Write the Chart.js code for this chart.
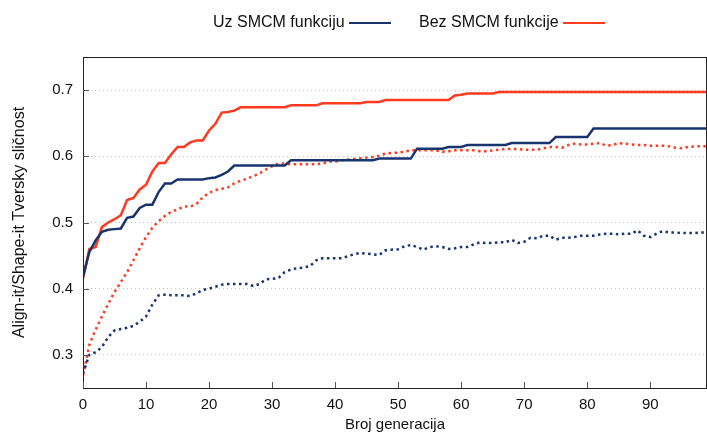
<!DOCTYPE html>
<html>
<head>
<meta charset="utf-8">
<script src="https://cdn.jsdelivr.net/npm/chart.js@4"></script>
<style>
  html, body { margin: 0; padding: 0; background: #fff; }
  #wrap { position: relative; width: 707px; height: 434px; }
  #legend { position: absolute; top: 13px; left: 0; width: 707px; height: 22px;
            font-family: "Liberation Sans", Arial, sans-serif; font-size: 16px; color: #111; }
  .item { position: absolute; top: 0; white-space: nowrap; }
  .swatch { display: inline-block; width: 42px; height: 0; border-top: 2.5px solid; vertical-align: middle; margin-left: 4px; }
</style>
</head>
<body>
<div id="wrap">
  <canvas id="chart" width="707" height="434"></canvas>
  <div id="legend">
    <span class="item" style="left:213px">Uz SMCM funkciju<span class="swatch" style="border-color:#17346f"></span></span>
    <span class="item" style="left:419px">Bez SMCM funkcije<span class="swatch" style="border-color:#ff3a1e"></span></span>
  </div>
</div>
<script>
// x axis: generation number
const generations = Array.from({ length: 100 }, (_, i) => i);
const xTicks = [0, 10, 20, 30, 40, 50, 60, 70, 80, 90];
const yTicks = [0.3, 0.4, 0.5, 0.6, 0.7];

// with SMCM, best (solid)
const uzSolid = [
  0.418, 0.455, 0.473, 0.486, 0.489, 0.490, 0.491, 0.507, 0.509, 0.522,
  0.527, 0.527, 0.546, 0.559, 0.559, 0.565, 0.565, 0.565, 0.565, 0.565,
  0.567, 0.568, 0.572, 0.577, 0.586, 0.586, 0.586, 0.586, 0.586, 0.586,
  0.586, 0.586, 0.586, 0.594, 0.594, 0.594, 0.594, 0.594, 0.594, 0.594,
  0.594, 0.594, 0.594, 0.594, 0.594, 0.594, 0.594, 0.5965, 0.5965, 0.5965,
  0.5965, 0.5965, 0.5965, 0.6115, 0.6115, 0.6115, 0.6115, 0.6115, 0.614, 0.614,
  0.614, 0.617, 0.617, 0.617, 0.617, 0.617, 0.617, 0.617, 0.620, 0.620,
  0.620, 0.620, 0.620, 0.620, 0.620, 0.629, 0.629, 0.629, 0.629, 0.629,
  0.629, 0.642, 0.642, 0.642, 0.642, 0.642, 0.642, 0.642, 0.642, 0.642,
  0.642, 0.642, 0.642, 0.642, 0.642, 0.642, 0.642, 0.642, 0.642, 0.642
];

// with SMCM, average (dotted)
const uzDotted = [
  0.272, 0.300, 0.304, 0.312, 0.327, 0.337, 0.339, 0.341, 0.344, 0.350,
  0.358, 0.376, 0.390, 0.391, 0.390, 0.390, 0.390, 0.389, 0.393, 0.398,
  0.400, 0.403, 0.406, 0.407, 0.407, 0.407, 0.407, 0.404, 0.407, 0.414,
  0.415, 0.416, 0.425, 0.429, 0.431, 0.432, 0.434, 0.443, 0.446, 0.446,
  0.446, 0.446, 0.449, 0.452, 0.454, 0.453, 0.452, 0.451, 0.458, 0.459,
  0.4595, 0.464, 0.466, 0.463, 0.459, 0.463, 0.464, 0.463, 0.460, 0.461,
  0.463, 0.463, 0.467, 0.470, 0.469, 0.469, 0.470, 0.470, 0.474, 0.469,
  0.471, 0.477, 0.476, 0.480, 0.480, 0.474, 0.477, 0.477, 0.478, 0.480,
  0.480, 0.480, 0.482, 0.483, 0.483, 0.482, 0.483, 0.483, 0.488, 0.480,
  0.478, 0.483, 0.487, 0.485, 0.485, 0.484, 0.484, 0.484, 0.485, 0.485
];

// without SMCM, best (solid)
const bezSolid = [
  0.415, 0.460, 0.463, 0.493, 0.500, 0.505, 0.511, 0.534, 0.537, 0.550,
  0.557, 0.577, 0.590, 0.590, 0.603, 0.614, 0.614, 0.621, 0.624, 0.624,
  0.639, 0.649, 0.666, 0.667, 0.669, 0.674, 0.674, 0.674, 0.674, 0.674,
  0.674, 0.674, 0.674, 0.677, 0.677, 0.677, 0.677, 0.677, 0.680, 0.680,
  0.680, 0.680, 0.680, 0.680, 0.680, 0.682, 0.682, 0.682, 0.685, 0.685,
  0.685, 0.685, 0.685, 0.685, 0.685, 0.685, 0.685, 0.685, 0.685, 0.692,
  0.693, 0.695, 0.695, 0.695, 0.695, 0.695, 0.697, 0.697, 0.697, 0.697,
  0.697, 0.697, 0.697, 0.697, 0.697, 0.697, 0.697, 0.697, 0.697, 0.697,
  0.697, 0.697, 0.697, 0.697, 0.697, 0.697, 0.697, 0.697, 0.697, 0.697,
  0.697, 0.697, 0.697, 0.697, 0.697, 0.697, 0.697, 0.697, 0.697, 0.697
];

// without SMCM, average (dotted)
const bezDotted = [
  0.269, 0.315, 0.338, 0.358, 0.377, 0.395, 0.410, 0.425, 0.443, 0.461,
  0.478, 0.492, 0.502, 0.510, 0.516, 0.520, 0.524, 0.524, 0.528, 0.538,
  0.545, 0.549, 0.551, 0.553, 0.559, 0.563, 0.566, 0.570, 0.574, 0.580,
  0.585, 0.589, 0.589, 0.588, 0.588, 0.588, 0.588, 0.588, 0.589, 0.592,
  0.592, 0.594, 0.595, 0.596, 0.597, 0.598, 0.599, 0.601, 0.604, 0.605,
  0.6055, 0.607, 0.609, 0.609, 0.609, 0.609, 0.609, 0.607, 0.6075, 0.609,
  0.609, 0.609, 0.609, 0.6075, 0.6075, 0.609, 0.610, 0.611, 0.611, 0.611,
  0.610, 0.610, 0.610, 0.612, 0.614, 0.614, 0.613, 0.617, 0.619, 0.618,
  0.618, 0.619, 0.620, 0.616, 0.617, 0.620, 0.619, 0.618, 0.617, 0.617,
  0.616, 0.616, 0.616, 0.615, 0.613, 0.612, 0.614, 0.615, 0.615, 0.615
];

const BLUE = "#17346f";
const RED = "#ff3a1e";
const FONT = "'Liberation Sans', Arial, sans-serif";

function pts(values) {
  return values.map((v, i) => ({ x: generations[i], y: v }));
}

// frame and inward tick marks like gnuplot
const framePlugin = {
  id: "frame",
  afterDraw(chart) {
    const { ctx, chartArea: a, scales } = chart;
    ctx.save();
    ctx.strokeStyle = "#222";
    ctx.lineWidth = 1;
    ctx.strokeRect(a.left + 0.5, a.top + 0.5, a.right - a.left - 1, a.bottom - a.top);
    ctx.strokeStyle = "#555";
    ctx.beginPath();
    xTicks.forEach(t => {
      const px = Math.round(scales.x.getPixelForValue(t)) + 0.5;
      ctx.moveTo(px, a.bottom);
      ctx.lineTo(px, a.bottom - 6);
    });
    yTicks.forEach(t => {
      const py = Math.round(scales.y.getPixelForValue(t)) + 0.5;
      ctx.moveTo(a.left, py);
      ctx.lineTo(a.left + 6, py);
    });
    ctx.stroke();
    ctx.restore();
  }
};

new Chart(document.getElementById("chart"), {
  type: "line",
  data: {
    datasets: [
      { label: "Uz SMCM funkciju", data: pts(uzSolid), borderColor: BLUE, borderWidth: 2.5 },
      { label: "Uz SMCM (prosjek)", data: pts(uzDotted), borderColor: BLUE, borderWidth: 2.5, borderDash: [2.5, 3.5] },
      { label: "Bez SMCM funkcije", data: pts(bezSolid), borderColor: RED, borderWidth: 2.5 },
      { label: "Bez SMCM (prosjek)", data: pts(bezDotted), borderColor: RED, borderWidth: 2.5, borderDash: [2.5, 3.5] }
    ]
  },
  options: {
    responsive: false,
    animation: false,
    layout: { padding: { top: 57, right: 0, left: 0, bottom: 0 } },
    elements: { point: { radius: 0 }, line: { tension: 0 } },
    plugins: { legend: { display: false }, tooltip: { enabled: false } },
    scales: {
      x: {
        type: "linear",
        min: 0,
        max: 99,
        afterBuildTicks: s => { s.ticks = xTicks.map(v => ({ value: v })); },
        afterFit: s => { s.height = 46; },
        grid: { display: false, drawTicks: false },
        border: { display: false },
        ticks: { color: "#111", font: { family: FONT, size: 15 }, padding: 8, maxRotation: 0 },
        title: { display: true, text: "Broj generacija", color: "#111", font: { family: FONT, size: 15 }, padding: { top: 3, bottom: 0 } }
      },
      y: {
        min: 0.25,
        max: 0.75,
        afterBuildTicks: s => { s.ticks = yTicks.map(v => ({ value: v })); },
        afterFit: s => { s.width = 83; },
        grid: { color: "#c4c4c4", lineWidth: 1, drawTicks: false },
        border: { display: false, dash: [1, 3] },
        ticks: { color: "#111", font: { family: FONT, size: 15 }, padding: 10, callback: v => v.toFixed(1) },
        title: { display: true, text: "Align-it/Shape-it Tversky sličnost", color: "#111", font: { family: FONT, size: 16 }, padding: { top: 10, bottom: 0 } }
      }
    }
  },
  plugins: [framePlugin]
});
</script>
</body>
</html>
